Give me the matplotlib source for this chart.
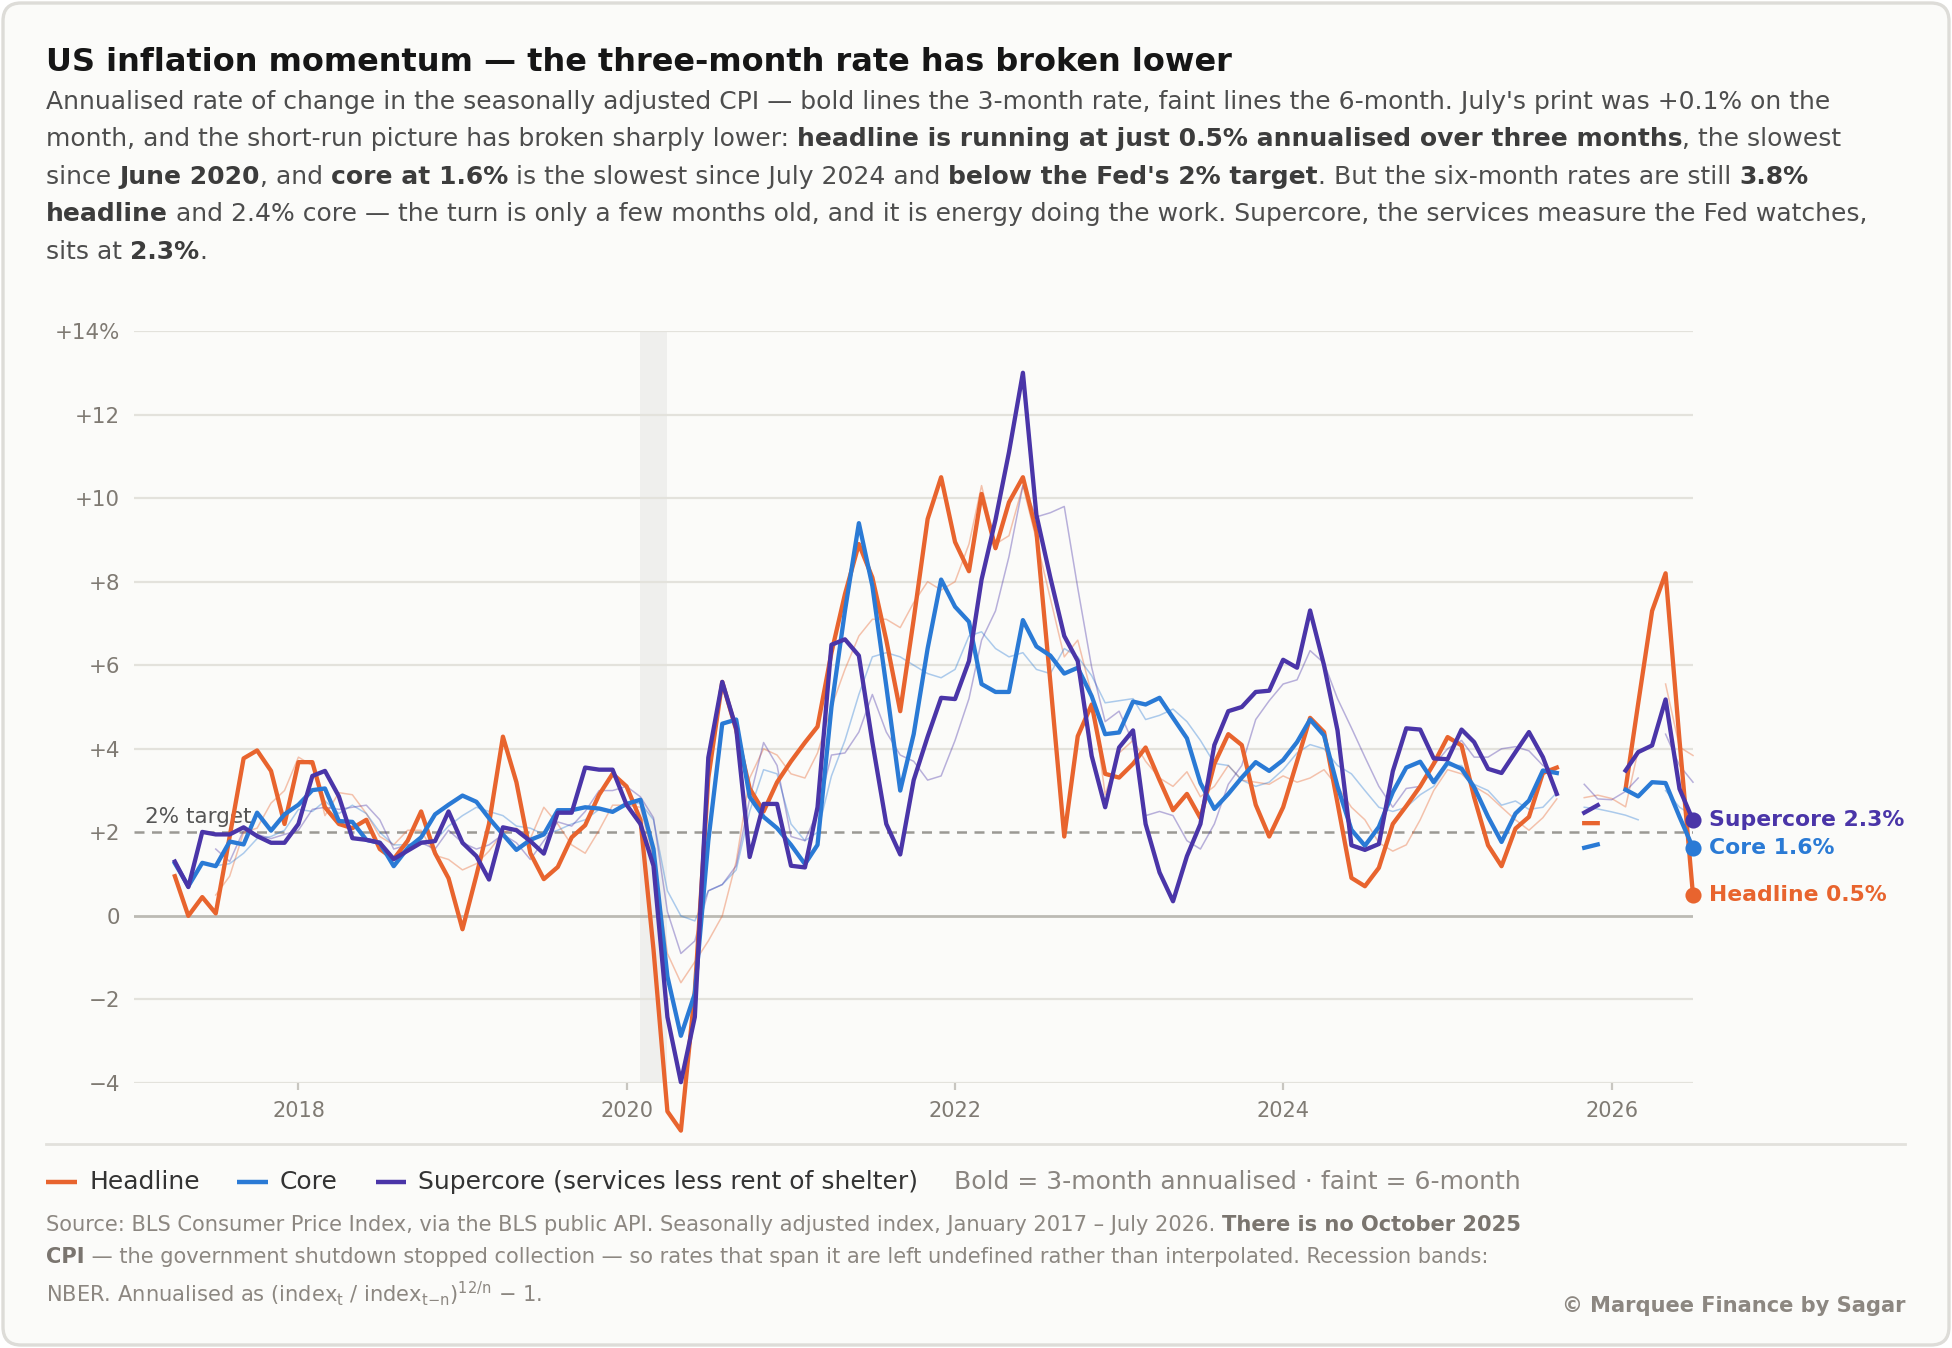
import matplotlib
matplotlib.use("Agg")
import matplotlib.pyplot as plt
import numpy as np
import pandas as pd
from datetime import date
from matplotlib.patches import FancyBboxPatch

nan = np.nan

# monthly dates: 3-month rates from Apr 2017, 6-month rates from Jul 2017
months_3m = pd.date_range("2017-04-01", "2026-07-01", freq="MS")
months_6m = pd.date_range("2017-07-01", "2026-07-01", freq="MS")

# 3-month annualised (bold lines)
headline_3m = [
    0.95, 0.0, 0.45, 0.06, 1.9, 3.77, 3.96, 3.47, 2.2,
    3.68, 3.68, 2.6, 2.2, 2.1, 2.3, 1.6, 1.36, 1.8, 2.5, 1.5, 0.9,
    -0.32, 0.97, 2.2, 4.29, 3.2, 1.5, 0.88, 1.17, 1.88, 2.17, 2.9, 3.4,
    3.1, 2.3, -0.8, -4.68, -5.14, -1.8, 3.3, 5.6, 4.45, 3.05, 2.5, 3.2,
    3.7, 4.15, 4.53, 6.3, 7.7, 8.9, 8.1, 6.6, 4.9, 7.1, 9.5, 10.5,
    8.95, 8.25, 10.1, 8.8, 9.9, 10.5, 9.2, 5.6, 1.9, 4.3, 5.06, 3.4,
    3.31, 3.64, 4.03, 3.25, 2.53, 2.92, 2.34, 3.64, 4.35, 4.09, 2.66, 1.9,
    2.6, 3.7, 4.74, 4.4, 2.7, 0.91, 0.71, 1.15, 2.2, 2.63, 3.1, 3.64,
    4.28, 4.08, 2.84, 1.69, 1.19, 2.09, 2.37, 3.42, 3.55, nan, 2.22, 2.22,
    nan, 3.04, 5.08, 7.3, 8.2, 4.2, 0.5,
]
core_3m = [
    1.26, 0.71, 1.27, 1.19, 1.78, 1.71, 2.47, 2.04, 2.43,
    2.66, 3.01, 3.05, 2.27, 2.25, 1.82, 1.75, 1.19, 1.62, 1.88, 2.43, 2.66,
    2.88, 2.73, 2.34, 1.95, 1.58, 1.82, 1.95, 2.53, 2.53, 2.6, 2.57, 2.49,
    2.68, 2.78, 1.6, -1.45, -2.87, -1.86, 1.8, 4.6, 4.7, 2.85, 2.37, 2.1,
    1.7, 1.24, 1.7, 5.0, 7.3, 9.4, 7.9, 5.5, 3.0, 4.35, 6.4, 8.05,
    7.4, 7.04, 5.55, 5.36, 5.36, 7.08, 6.45, 6.23, 5.8, 5.94, 5.26, 4.35,
    4.39, 5.13, 5.06, 5.22, 4.74, 4.25, 3.18, 2.56, 2.92, 3.31, 3.68, 3.47,
    3.73, 4.16, 4.7, 4.32, 3.1, 2.06, 1.68, 2.13, 2.96, 3.55, 3.69, 3.2,
    3.67, 3.52, 3.08, 2.37, 1.77, 2.45, 2.76, 3.48, 3.42, nan, 1.63, 1.71,
    nan, 3.02, 2.86, 3.2, 3.18, 2.37, 1.63,
]
supercore_3m = [
    1.3, 0.69, 2.01, 1.95, 1.95, 2.12, 1.91, 1.75, 1.75,
    2.2, 3.35, 3.47, 2.86, 1.86, 1.82, 1.75, 1.36, 1.56, 1.75, 1.79, 2.5,
    1.75, 1.43, 0.87, 2.12, 2.05, 1.79, 1.49, 2.47, 2.47, 3.55, 3.5, 3.5,
    2.66, 2.2, 1.2, -2.42, -3.98, -2.42, 3.79, 5.6, 4.49, 1.41, 2.68, 2.68,
    1.2, 1.16, 2.6, 6.49, 6.62, 6.23, 4.16, 2.2, 1.47, 3.25, 4.29, 5.22,
    5.19, 6.1, 8.05, 9.48, 11.1, 13.0, 9.6, 8.1, 6.7, 6.1, 3.83, 2.6,
    4.03, 4.44, 2.2, 1.04, 0.35, 1.43, 2.2, 4.09, 4.9, 5.0, 5.36, 5.39,
    6.13, 5.94, 7.31, 6.0, 4.44, 1.69, 1.58, 1.72, 3.46, 4.49, 4.46, 3.77,
    3.75, 4.46, 4.16, 3.52, 3.42, 3.92, 4.4, 3.8, 2.92, nan, 2.47, 2.65,
    nan, 3.48, 3.92, 4.08, 5.18, 3.04, 2.29,
]

# 6-month annualised (faint lines)
headline_6m = [
    0.5, 0.95, 2.0, 2.1, 2.7, 3.0,
    3.8, 3.6, 2.4, 2.95, 2.9, 2.45, 1.9, 1.7, 2.05, 2.05, 1.45, 1.35,
    1.1, 1.25, 1.55, 2.0, 2.1, 1.85, 2.6, 2.2, 1.7, 1.5, 2.05, 2.65,
    2.65, 2.6, 1.4, -0.9, -1.6, -1.1, -0.6, 0.0, 1.3, 3.3, 4.0, 3.85,
    3.4, 3.3, 3.9, 5.0, 5.9, 6.7, 7.1, 7.1, 6.9, 7.5, 8.0, 7.8,
    8.0, 8.9, 10.3, 8.9, 9.1, 10.3, 9.0, 7.6, 6.2, 6.6, 5.3, 2.9,
    3.9, 4.2, 3.7, 3.3, 3.1, 3.45, 2.85, 3.1, 3.6, 3.25, 3.2, 3.15,
    3.35, 3.2, 3.3, 3.5, 3.1, 2.6, 2.3, 1.75, 1.55, 1.7, 2.3, 3.0,
    3.5, 3.4, 3.1, 2.9, 2.6, 2.3, 2.05, 2.35, 2.8, nan, 2.83, 2.89,
    2.81, 2.61, 3.96, nan, 5.55, 4.04, 3.84,
]
core_6m = [
    1.2, 1.25, 1.5, 1.85, 1.9, 2.05,
    2.55, 2.5, 2.75, 2.45, 2.65, 2.45, 2.0, 1.7, 1.7, 1.8, 1.8, 2.15,
    2.4, 2.6, 2.5, 2.4, 2.15, 2.1, 1.95, 2.05, 2.2, 2.3, 2.55, 2.5,
    2.65, 2.7, 2.3, 0.6, 0.0, -0.12, 0.6, 0.75, 1.1, 2.5, 3.5, 3.4,
    2.2, 1.8, 2.0, 3.35, 4.2, 5.3, 6.2, 6.3, 6.2, 6.0, 5.8, 5.7,
    5.9, 6.7, 6.8, 6.4, 6.2, 6.3, 5.9, 5.8, 6.4, 6.2, 5.75, 5.1,
    5.15, 5.2, 4.7, 4.8, 4.95, 4.65, 4.2, 3.65, 3.6, 3.25, 3.1, 3.2,
    3.5, 3.9, 4.1, 4.0, 3.6, 3.4, 3.0, 2.6, 2.5, 2.6, 2.9, 3.1,
    3.6, 3.6, 3.15, 3.0, 2.65, 2.75, 2.55, 2.6, 2.95, nan, 2.6, 2.56,
    2.49, 2.41, 2.3, nan, 3.0, 2.6, 2.4,
]
supercore_6m = [
    1.6, 1.3, 2.05, 1.95, 1.85, 1.95,
    2.05, 2.55, 2.6, 2.55, 2.6, 2.65, 2.3, 1.6, 1.7, 1.75, 1.6, 2.05,
    1.75, 1.6, 1.7, 1.95, 1.75, 1.35, 1.8, 2.25, 2.15, 2.5, 3.0, 3.0,
    3.1, 2.85, 2.35, 0.1, -0.9, -0.6, 0.6, 0.75, 1.2, 2.8, 4.15, 3.6,
    1.9, 1.8, 2.5, 3.85, 3.9, 4.4, 5.3, 4.4, 3.85, 3.7, 3.25, 3.35,
    4.2, 5.2, 6.6, 7.3, 8.6, 10.3, 9.55, 9.65, 9.8, 7.85, 5.95, 4.65,
    4.9, 4.15, 2.4, 2.5, 2.4, 1.8, 1.6, 2.2, 3.15, 3.6, 4.7, 5.15,
    5.55, 5.65, 6.35, 6.05, 5.2, 4.5, 3.8, 3.1, 2.6, 3.05, 3.1, 3.6,
    4.0, 4.2, 3.8, 3.8, 4.0, 4.05, 3.95, 3.6, 3.45, nan, 3.15, 2.8,
    2.78, 2.98, 3.3, nan, 4.35, 3.6, 3.2,
]

series = ["Headline", "Core", "Supercore"]
colors = ["#e8642e", "#2a7ad5", "#4a35a8"]
end_labels = ["Headline 0.5%", "Core 1.6%", "Supercore 2.3%"]

W, H, DPI = 1952, 1348, 200
fig = plt.figure(figsize=(W / DPI, H / DPI), dpi=DPI, facecolor="white")

# background layer in pixel coordinates (y down)
bg = fig.add_axes([0, 0, 1, 1], zorder=0)
bg.set_xlim(0, W)
bg.set_ylim(H, 0)
bg.axis("off")
bg.add_patch(FancyBboxPatch((3, 3), W - 6, H - 6, boxstyle="round,pad=0,rounding_size=18",
                            fc="#fbfbf9", ec="#dddcd8", lw=1.2))

renderer = fig.canvas.get_renderer()


def text_width(s, size, bold):
    t = bg.text(0, 0, s + "|", fontsize=size, fontweight="bold" if bold else "normal")
    w1 = t.get_window_extent(renderer).width
    t.set_text("|")
    w2 = t.get_window_extent(renderer).width
    t.remove()
    return w1 - w2


def draw_runs(x, y, parts, size, color, bcolor):
    for s, b in parts:
        bg.text(x, y, s, fontsize=size, fontweight="bold" if b else "normal",
                color=bcolor if b else color, va="baseline", ha="left")
        x += text_width(s, size, b)
    return x


# title and subtitle
bg.text(46, 71, "US inflation momentum \u2014 the three-month rate has broken lower",
        fontsize=11.5, fontweight="bold", color="#161616", va="baseline")

sub_lines = [
    [("Annualised rate of change in the seasonally adjusted CPI \u2014 bold lines the 3-month rate, "
      "faint lines the 6-month. July's print was +0.1% on the", False)],
    [("month, and the short-run picture has broken sharply lower: ", False),
     ("headline is running at just 0.5% annualised over three months", True),
     (", the slowest", False)],
    [("since ", False), ("June 2020", True), (", and ", False), ("core at 1.6%", True),
     (" is the slowest since July 2024 and ", False), ("below the Fed's 2% target", True),
     (". But the six-month rates are still ", False), ("3.8%", True)],
    [("headline", True),
     (" and 2.4% core \u2014 the turn is only a few months old, and it is energy doing the work. "
      "Supercore, the services measure the Fed watches,", False)],
    [("sits at ", False), ("2.3%", True), (".", False)],
]
for i, parts in enumerate(sub_lines):
    draw_runs(46, 109 + i * 37.4, parts, 9.0, "#4d4d4d", "#3c3c3c")

# main chart
ax_l, ax_r, ax_t, ax_b = 134.4, 1693, 331, 1083
ax = fig.add_axes([ax_l / W, 1 - ax_b / H, (ax_r - ax_l) / W, (ax_b - ax_t) / H], zorder=1)
ax.patch.set_alpha(0)
ax.set_xlim(date(2017, 1, 1), date(2026, 7, 1))
ax.set_ylim(-4, 14)
for s in ax.spines.values():
    s.set_visible(False)

for v in range(-4, 15, 2):
    if v == 0:
        ax.axhline(v, color="#bcbab4", lw=1.0, zorder=1)
    elif v != 2:
        ax.axhline(v, color="#e3e2dc", lw=0.8, zorder=1)
ax.axhline(2, color="#9b9994", lw=0.9, ls=(0, (4, 3)), zorder=1.5)
ax.text(date(2017, 1, 24), 2.12, "2% target", fontsize=7.75, color="#555555", va="bottom", ha="left")

# recession band (NBER)
ax.fill_between([date(2020, 2, 1), date(2020, 4, 1)], -4, 14, color="#efefed", lw=0, zorder=0.5)

faint = [headline_6m, core_6m, supercore_6m]
bold = [headline_3m, core_3m, supercore_3m]
for vals, c in zip(faint, colors):
    ax.plot(months_6m, vals, color=c, lw=0.55, alpha=0.38, zorder=2, clip_on=False)
for vals, c in zip(bold, colors):
    ax.plot(months_3m, vals, color=c, lw=1.55, zorder=3, clip_on=False)

for vals, c, lab in zip(bold, colors, end_labels):
    ax.plot(months_3m[-1], vals[-1], "o", color=c, ms=4.8, zorder=4, clip_on=False)
    ax.annotate(lab, (months_3m[-1], vals[-1]), xytext=(5.8, 0), textcoords="offset points",
                fontsize=7.9, fontweight="bold", color=c, va="center", ha="left",
                annotation_clip=False)

ax.set_yticks(range(-4, 15, 2))
ax.set_yticklabels(["\u22124", "\u22122", "0", "+2", "+4", "+6", "+8", "+10", "+12", "+14%"])
ax.tick_params(axis="y", length=0, pad=5.2, labelsize=7.7, labelcolor="#7f7a73")
ax.set_xticks([date(y, 1, 1) for y in (2018, 2020, 2022, 2024, 2026)])
ax.set_xticklabels(["2018", "2020", "2022", "2024", "2026"])
ax.tick_params(axis="x", length=2.5, width=0.8, color="#c8c6c0", pad=4,
               labelsize=7.5, labelcolor="#7f7a73")

# separator and legend
bg.plot([46, 1905], [1144, 1144], color="#e2e1dc", lw=1.0)
leg_y = 1182
leg_items = [(46, 77, 89.7, "Headline"), (236.5, 267.7, 280, "Core"),
             (376, 406, 418, "Supercore (services less rent of shelter)")]
for (x0, x1, xt, lab), c in zip(leg_items, colors):
    bg.plot([x0, x1], [leg_y, leg_y], color=c, lw=1.6, solid_capstyle="butt")
    bg.text(xt, leg_y, lab, fontsize=9.0, color="#333333", va="center", ha="left")
bg.text(953.6, leg_y, "Bold = 3-month annualised \u00b7 faint = 6-month", fontsize=9.0,
        color="#8a8580", va="center", ha="left")

# footer
foot = [
    [("Source: BLS Consumer Price Index, via the BLS public API. Seasonally adjusted index, "
      "January 2017 \u2013 July 2026. ", False), ("There is no October 2025", True)],
    [("CPI", True), (" \u2014 the government shutdown stopped collection \u2014 so rates that span it "
                     "are left undefined rather than interpolated. Recession bands:", False)],
    [("NBER. Annualised as (index$_\\mathrm{t}$ / index$_\\mathrm{t{-}n}$)$^\\mathrm{12/n}$ \u2212 1.", False)],
]
for parts, y in zip(foot, [1231, 1263, 1302]):
    draw_runs(46, y, parts, 7.55, "#8c8781", "#7a756f")
bg.text(1905, 1312, "\u00a9 Marquee Finance by Sagar", fontsize=7.55, fontweight="bold",
        color="#8c8781", va="baseline", ha="right")

fig.savefig("out.png", dpi=DPI, facecolor="white")
